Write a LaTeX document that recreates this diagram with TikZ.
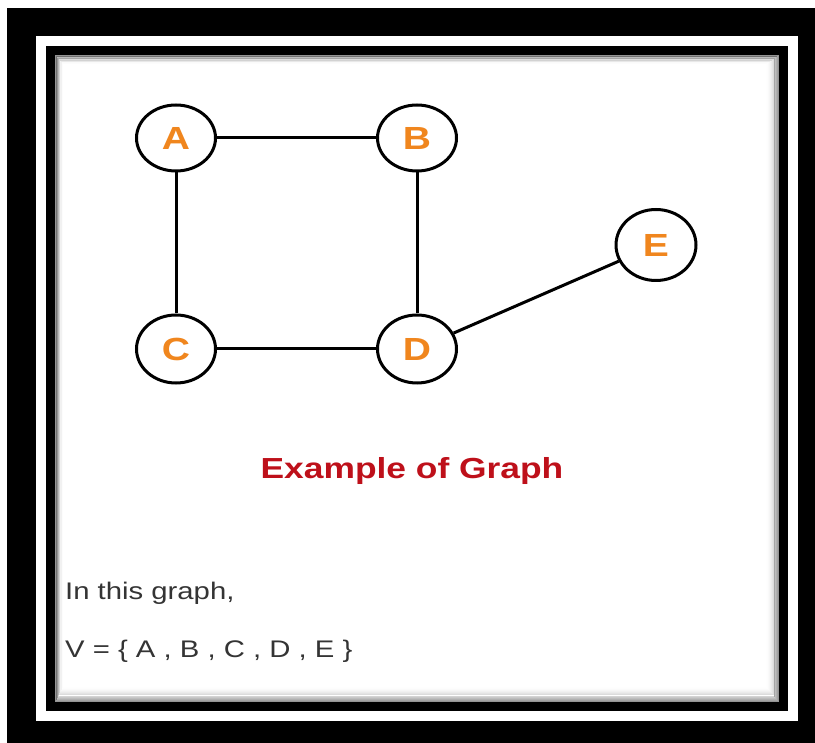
\documentclass[tikz,border=0pt]{standalone}
\usepackage{fontspec}
\setmainfont{Liberation Sans}
\usetikzlibrary{shapes.geometric}
\definecolor{nodeorange}{RGB}{240,134,30}
\definecolor{titlered}{RGB}{190,16,26}
\definecolor{textgray}{RGB}{52,52,52}
\newcommand{\wide}[1]{\scalebox{1.22}[1]{#1}}
\begin{document}
\begin{tikzpicture}[x=1pt,y=-1pt,
  vertex/.style={ellipse, draw=black, line width=3pt, fill=white,
    minimum width=79pt, minimum height=66pt, inner sep=0pt,
    font=\fontsize{32}{32}\selectfont\bfseries, text=nodeorange},
  edge/.style={line width=3pt, draw=black},
  bodytext/.style={anchor=base west, inner sep=0pt, text=textgray,
    font=\fontsize{24}{24}\selectfont}
]
\useasboundingbox (0,0) rectangle (815,743);
\fill[white] (0,0) rectangle (815,743);
\fill[black] (7,8) rectangle (815,743);
\fill[white] (36,36) rectangle (798,721);
\fill[black] (46,46) rectangle (788,711);
\fill[white] (55,55) rectangle (779,702);
\foreach \i in {0,...,13} {
  \pgfmathsetmacro\op{0.42*(1-\i/14)^2}
  \draw[black, opacity=\op, line width=1pt]
    (55.5+0.55*\i, 55.5+0.65*\i) rectangle (778.5-0.9*\i, 701.5-1.1*\i);
}
\node[vertex] (A) at (176,138) {\wide{A}};
\node[vertex] (B) at (417,138) {\wide{B}};
\node[vertex, minimum height=68pt] (C) at (176,349) {\wide{C}};
\node[vertex, minimum height=68pt] (D) at (417,349) {\wide{D}};
\node[vertex, minimum width=80pt, minimum height=71pt] (E) at (656,245) {\wide{E}};
\draw[edge] (A) -- (B);
\draw[edge] (A) -- (C);
\draw[edge] (B) -- (D);
\draw[edge] (C) -- (D);
\draw[edge] (D) -- (E);
\node[anchor=base, inner sep=0pt, text=titlered,
  font=\fontsize{29}{29}\selectfont\bfseries] (title) at (412,479) {\wide{Example of Graph}};
\node[bodytext] (t1) at (65,599) {\wide{In this graph,}};
\node[bodytext] (t2) at (65,657) {\wide{V = \{ A , B , C , D , E \}}};
\end{tikzpicture}
\end{document}
